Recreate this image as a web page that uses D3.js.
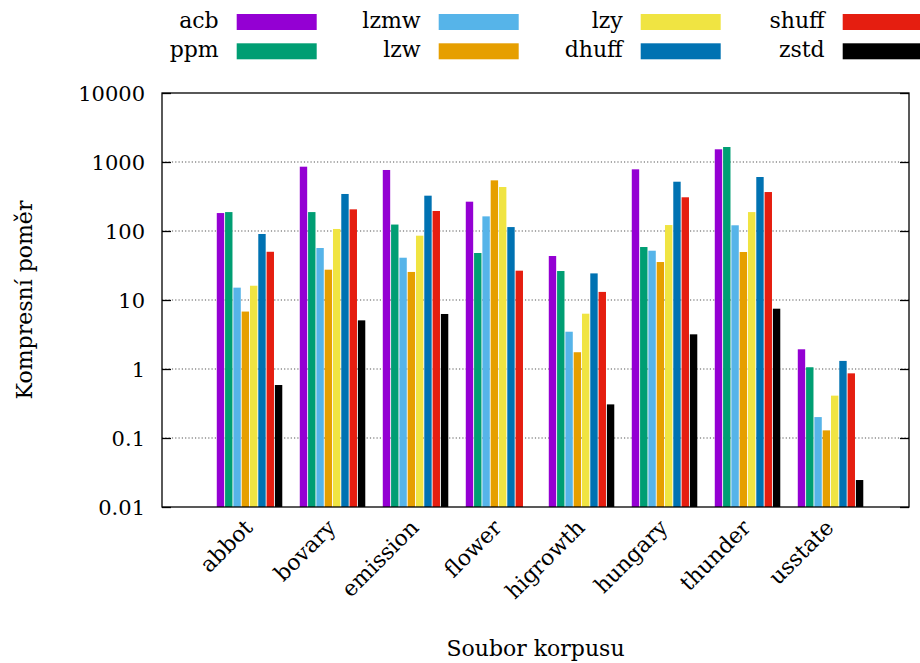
<!DOCTYPE html>
<html>
<head>
<meta charset="utf-8">
<script src="https://cdn.jsdelivr.net/npm/d3@7"></script>
<style>
    body { margin: 0; background: white; }
    text { fill: black; font-family: "DejaVu Serif", serif; }
</style>
</head>
<body>
<svg width="920" height="663"></svg>
<script>
const FILES = ["abbot", "bovary", "emission", "flower", "higrowth", "hungary", "thunder", "usstate"];
const METHODS = ["acb", "ppm", "lzmw", "lzw", "lzy", "dhuff", "shuff", "zstd"];
const COLORS = ["#9400d3", "#009e73", "#56b4e9", "#e69f00", "#f0e442", "#0072b2", "#e51e10", "#000000"];
const Y_TICKS = [0.01, 0.1, 1, 10, 100, 1000, 10000];

const acb = [182, 855, 766, 266, 43.4, 783, 1528, 1.93];
const ppm = [188, 188, 124, 48, 26.3, 58.6, 1649, 1.06];
const lzmw = [15.1, 56.7, 41, 163, 3.47, 51.8, 121, 0.201];
const lzw = [6.8, 27.5, 25.5, 542, 1.75, 35.5, 49.6, 0.129];
const lzy = [16.1, 107, 85.5, 434, 6.33, 122, 188, 0.411];
const dhuff = [90.5, 344, 325, 114, 24.3, 518, 606, 1.31];
const shuff = [50, 206, 195, 26.6, 13.1, 308, 367, 0.865];
const zstd = [0.586, 5.07, 6.27, null, 0.307, 3.18, 7.48, 0.0246];

const SERIES = [acb, ppm, lzmw, lzw, lzy, dhuff, shuff, zstd];

const plotLeft = 162, plotRight = 909, plotTop = 93, plotBottom = 507;

const x = d3.scaleLinear().domain([-1.06, 7.94]).range([plotLeft, plotRight]);
const y = d3.scaleLog().domain([0.01, 10000]).range([plotBottom, plotTop]);
const boxWidth = 1 / (METHODS.length + 2);

const svg = d3.select('svg');

// grid
svg.append('g')
    .selectAll('line')
    .data(Y_TICKS.slice(1, -1))
    .enter()
    .append('line')
    .attr('x1', plotLeft)
    .attr('x2', plotRight)
    .attr('y1', d => y(d))
    .attr('y2', d => y(d))
    .attr('stroke', '#555')
    .attr('stroke-width', 1.2)
    .attr('stroke-dasharray', '1.2,2.1');

// bars
const bars = [];
SERIES.forEach((values, j) => {
    values.forEach((v, i) => {
        if (v !== null) bars.push({ file: i, method: j, value: v });
    });
});

svg.append('g')
    .selectAll('rect')
    .data(bars)
    .enter()
    .append('rect')
    .attr('x', d => x(d.file - 0.4 + d.method * boxWidth))
    .attr('width', x(boxWidth) - x(0) - 0.9)
    .attr('y', d => y(d.value))
    .attr('height', d => plotBottom - y(d.value))
    .attr('fill', d => COLORS[d.method]);

// frame and ticks
svg.append('rect')
    .attr('x', plotLeft)
    .attr('y', plotTop)
    .attr('width', plotRight - plotLeft)
    .attr('height', plotBottom - plotTop)
    .attr('fill', 'none')
    .attr('stroke', 'black')
    .attr('stroke-width', 1.3);

const yAxis = svg.append('g')
    .attr('transform', 'translate(' + plotLeft + ',0)')
    .call(d3.axisRight(y).tickValues(Y_TICKS).tickSize(9).tickFormat(''));
yAxis.select('.domain').remove();
yAxis.selectAll('line').attr('stroke-width', 1.3);

const yAxisRight = svg.append('g')
    .attr('transform', 'translate(' + plotRight + ',0)')
    .call(d3.axisLeft(y).tickValues(Y_TICKS).tickSize(9).tickFormat(''));
yAxisRight.select('.domain').remove();
yAxisRight.selectAll('line').attr('stroke-width', 1.3);

svg.append('g')
    .selectAll('text')
    .data(Y_TICKS)
    .enter()
    .append('text')
    .attr('x', 145)
    .attr('y', d => y(d))
    .attr('dy', '0.36em')
    .attr('text-anchor', 'end')
    .attr('font-size', 21)
    .text(d => d3.format('~g')(d));

svg.append('g')
    .selectAll('text')
    .data(FILES)
    .enter()
    .append('text')
    .attr('transform', (d, i) => 'translate(' + (x(i) + 4) + ',' + 529 + ') rotate(-45)')
    .attr('text-anchor', 'end')
    .attr('font-size', 22)
    .text(d => d);

svg.append('text')
    .attr('x', (plotLeft + plotRight) / 2)
    .attr('y', 656)
    .attr('text-anchor', 'middle')
    .attr('font-size', 22)
    .text('Soubor korpusu');

svg.append('text')
    .attr('transform', 'translate(32,' + ((plotTop + plotBottom) / 2) + ') rotate(-90)')
    .attr('text-anchor', 'middle')
    .attr('font-size', 22)
    .text('Kompresní poměr');

// legend
const legend = svg.append('g')
    .selectAll('g')
    .data(METHODS)
    .enter()
    .append('g')
    .attr('transform', (d, i) => 'translate(' + (236.7 + Math.floor(i / 2) * 202) + ',' + (14 + (i % 2) * 29.3) + ')');

legend.append('rect')
    .attr('width', 80)
    .attr('height', 16)
    .attr('fill', (d, i) => COLORS[i]);

legend.append('text')
    .attr('x', -18)
    .attr('y', 14)
    .attr('text-anchor', 'end')
    .attr('font-size', 22)
    .text(d => d);
</script>
</body>
</html>
